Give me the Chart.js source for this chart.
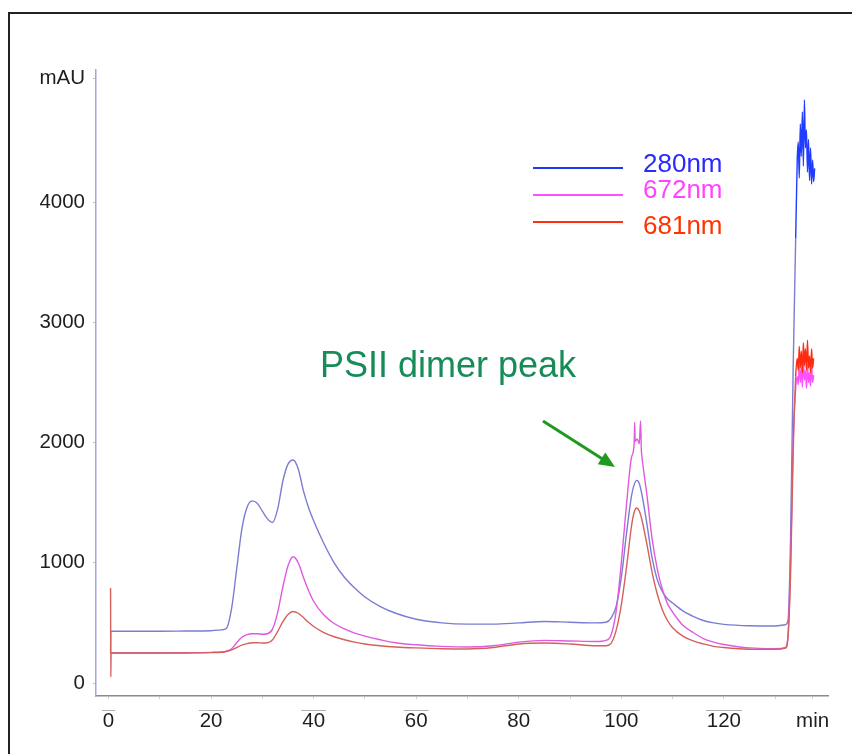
<!DOCTYPE html>
<html>
<head>
<meta charset="utf-8">
<script src="https://cdn.jsdelivr.net/npm/chart.js@4.4.1/dist/chart.umd.min.js"></script>
<style>
  html, body { margin: 0; padding: 0; background: #fff; overflow: hidden; }
  #frame { position: absolute; left: 8px; top: 12px; width: 870px; height: 770px; border: 2px solid #222; box-sizing: border-box; }
  #c { position: absolute; left: 0; top: 0; }
</style>
</head>
<body>
<div id="frame"></div>
<canvas id="c" width="852" height="754"></canvas>
<script>
// --- Data ---
const t280 = [0.4, 0.45, 5, 10, 15, 20, 22, 23, 24, 25, 26, 27, 28, 29, 30, 31, 32, 33, 34, 35, 36, 37, 38, 39, 40, 42, 44, 46, 48, 50, 53, 56, 60, 65, 70, 75, 80, 85, 90, 95, 97, 98, 99, 100, 101, 102, 102.5, 103, 103.5, 104, 105, 106, 107, 108, 109, 110, 112, 114, 116, 118, 120, 125, 130, 132, 132.5, 133, 133.5, 134, 134.3, 134.5, 134.7, 134.9, 135.1, 135.3, 135.5, 135.7, 135.9, 136.1, 136.3, 136.5, 136.7, 136.9, 137.1, 137.3, 137.5, 137.7];
const v280 = [250, 430, 430, 430, 432, 435, 442, 455, 620, 950, 1280, 1460, 1515, 1495, 1430, 1365, 1335, 1450, 1680, 1820, 1855, 1780, 1600, 1460, 1350, 1160, 1000, 880, 790, 715, 635, 580, 530, 500, 490, 490, 500, 512, 505, 500, 505, 540, 640, 880, 1240, 1560, 1650, 1685, 1660, 1570, 1320, 1040, 860, 760, 700, 665, 600, 555, 520, 500, 488, 476, 474, 485, 520, 1200, 2600, 3700, 4350, 4500, 4200, 4650, 4380, 4750, 4300, 4850, 4450, 4600, 4250, 4520, 4180, 4450, 4150, 4350, 4170, 4280];

const t672 = [0.4, 5, 10, 15, 20, 22, 23, 24, 25, 26, 27, 28, 29, 30, 31, 32, 33, 34, 35, 36, 37, 38, 39, 40, 42, 44, 46, 48, 50, 53, 56, 60, 65, 70, 75, 80, 85, 90, 95, 97, 98, 99, 100, 101, 102, 102.5, 102.6, 102.7, 103.1, 103.5, 103.75, 103.9, 104, 105, 106, 107, 108, 109, 110, 111, 112, 114, 116, 118, 120, 123, 126, 130, 132, 132.5, 133, 133.5, 134, 134.3, 134.5, 134.7, 134.9, 135.1, 135.3, 135.5, 135.7, 135.9, 136.1, 136.3, 136.5, 136.7, 136.9, 137.1, 137.3, 137.5];
const v672 = [250, 250, 250, 252, 255, 258, 265, 285, 335, 380, 402, 410, 410, 406, 410, 450, 590, 800, 975, 1050, 1000, 880, 770, 680, 565, 495, 450, 415, 390, 360, 335, 318, 305, 300, 310, 340, 355, 350, 345, 355, 400, 600, 1000, 1480, 1880, 1990, 2170, 2010, 2030, 1990, 2180, 1940, 1890, 1560, 1200, 950, 780, 660, 590, 530, 480, 420, 370, 340, 320, 300, 290, 285, 295, 400, 1000, 2000, 2450, 2550, 2480, 2650, 2500, 2620, 2460, 2680, 2520, 2600, 2450, 2650, 2500, 2580, 2470, 2640, 2500, 2560];

const t681 = [0.4, 0.45, 0.5, 5, 10, 15, 20, 22, 23, 24, 25, 26, 27, 28, 29, 30, 31, 32, 33, 34, 35, 36, 37, 38, 39, 40, 42, 44, 46, 48, 50, 53, 56, 60, 65, 70, 75, 80, 85, 90, 95, 97, 98, 99, 100, 101, 102, 102.5, 103, 103.5, 104, 105, 106, 107, 108, 109, 110, 112, 114, 116, 118, 120, 123, 126, 130, 132, 132.5, 133, 133.5, 134, 134.3, 134.5, 134.7, 134.9, 135.1, 135.3, 135.5, 135.7, 135.9, 136.1, 136.3, 136.5, 136.7, 136.9, 137.1, 137.3, 137.5];
const v681 = [790, 50, 250, 250, 250, 250, 253, 256, 262, 275, 295, 315, 328, 335, 335, 333, 335, 360, 430, 510, 570, 595, 580, 545, 505, 470, 420, 385, 360, 340, 325, 310, 300, 292, 285, 283, 295, 325, 333, 325, 310, 310, 330, 440, 650, 960, 1310, 1420, 1455, 1430, 1360, 1150, 920, 740, 610, 520, 460, 390, 350, 325, 305, 295, 285, 280, 280, 290, 380, 900, 1900, 2550, 2700, 2600, 2800, 2620, 2760, 2580, 2830, 2640, 2780, 2600, 2850, 2620, 2720, 2580, 2780, 2620, 2700];

const yTicks = [0, 1000, 2000, 3000, 4000];
const yTickLabels = ['0', '1000', '2000', '3000', '4000'];
const yUnitAt = 5031;           // where "mAU" sits on the axis
const xTicks = [0, 10, 20, 30, 40, 50, 60, 70, 80, 90, 100, 110, 120, 130];
const xUnitAt = 137.3;          // where "min" sits on the axis
const legendNames = ['280nm', '672nm', '681nm'];

const FONT = '"Liberation Sans", Arial, Helvetica, sans-serif';
const TICK_PX = 20.5;
const noiseFrom = 134;

function pts(t, v) { return t.map((x, i) => ({ x: x, y: v[i] })); }

function trace(label, t, v, col, bright, order) {
    return {
        label: label, data: pts(t, v), borderColor: col, borderWidth: 1.4,
        pointRadius: 0, cubicInterpolationMode: 'monotone', order: order,
        segment: { borderColor: c => c.p0.parsed.x >= noiseFrom ? bright : undefined }
    };
}

// labels, legend, arrow, little overlines above the x labels
const annot = {
    id: 'annot',
    afterDraw(chart) {
        const ctx = chart.ctx;
        const xs = chart.scales.x;
        ctx.save();

        ctx.font = TICK_PX + 'px ' + FONT;
        ctx.strokeStyle = '#b0b0b0'; ctx.lineWidth = 1;
        xTicks.filter(v => v % 20 === 0).forEach(v => {
            const px = xs.getPixelForValue(v);
            const w = ctx.measureText(String(v)).width + 2;
            ctx.beginPath(); ctx.moveTo(px - w / 2, 710.5); ctx.lineTo(px + w / 2, 710.5); ctx.stroke();
        });

        // legend
        const lc = ['#2036f0', '#ff50ff', '#ff3010'];
        const tc = ['#2a2aff', '#ff44ff', '#ff3300'];
        const ly = [168, 195, 222], ty = [165, 191, 227];
        ctx.lineWidth = 2;
        ctx.font = '26px ' + FONT;
        ctx.textBaseline = 'middle'; ctx.textAlign = 'left';
        legendNames.forEach((n, i) => {
            ctx.strokeStyle = lc[i];
            ctx.beginPath(); ctx.moveTo(533, ly[i]); ctx.lineTo(623, ly[i]); ctx.stroke();
            ctx.fillStyle = tc[i];
            ctx.fillText(n, 643, ty[i]);
        });

        // annotation
        ctx.fillStyle = '#178c58';
        ctx.font = '36px ' + FONT;
        ctx.fillText('PSII dimer peak', 320, 367);

        const x0 = 543, y0 = 421, x1 = 615, y1 = 467;
        const a = Math.atan2(y1 - y0, x1 - x0);
        ctx.strokeStyle = '#1f9a1f'; ctx.fillStyle = '#1f9a1f'; ctx.lineWidth = 3;
        ctx.beginPath(); ctx.moveTo(x0, y0);
        ctx.lineTo(x1 - 12 * Math.cos(a), y1 - 12 * Math.sin(a)); ctx.stroke();
        ctx.beginPath();
        ctx.moveTo(x1, y1);
        ctx.lineTo(x1 - 16 * Math.cos(a) + 7 * Math.sin(a), y1 - 16 * Math.sin(a) - 7 * Math.cos(a));
        ctx.lineTo(x1 - 16 * Math.cos(a) - 7 * Math.sin(a), y1 - 16 * Math.sin(a) + 7 * Math.cos(a));
        ctx.closePath(); ctx.fill();

        ctx.restore();
    }
};

new Chart(document.getElementById('c'), {
    type: 'line',
    data: {
        datasets: [
            trace('681nm', t681, v681, '#d4605c', '#ff2a10', 1),
            trace('672nm', t672, v672, '#e05ae0', '#ff50ff', 2),
            trace('280nm', t280, v280, '#7c7cd2', '#1f3cff', 3)
        ]
    },
    options: {
        responsive: false, animation: false, parsing: false,
        layout: { padding: { left: 36, right: 24, top: 70, bottom: 18 } },
        plugins: { legend: { display: false }, tooltip: { enabled: false } },
        scales: {
            x: {
                type: 'linear', min: -2.44, max: 140.3,
                afterFit: s => { s.height = 40; },
                afterBuildTicks: s => { s.ticks = xTicks.concat([xUnitAt]).map(v => ({ value: v })); },
                border: { color: '#8a8a8a', width: 1.5 },
                grid: { drawOnChartArea: false, tickLength: 3, color: '#cfcfcf' },
                ticks: {
                    autoSkip: false, maxRotation: 0, padding: 10, color: '#1e1e1e',
                    font: { family: FONT, size: TICK_PX },
                    callback: v => v === xUnitAt ? 'min' : (v % 20 === 0 ? String(v) : '')
                }
            },
            y: {
                type: 'linear', min: -108, max: 5098,
                afterFit: s => { s.width = 60; },
                afterBuildTicks: s => { s.ticks = yTicks.concat([yUnitAt]).map(v => ({ value: v })); },
                border: { color: '#a6a6de', width: 1.5 },
                grid: { drawOnChartArea: false, tickLength: 3, color: '#b8b8e0' },
                ticks: {
                    padding: 8, color: '#1e1e1e',
                    font: { family: FONT, size: TICK_PX },
                    callback: v => v === yUnitAt ? 'mAU' : yTickLabels[yTicks.indexOf(v)]
                }
            }
        }
    },
    plugins: [annot]
});
</script>
</body>
</html>
